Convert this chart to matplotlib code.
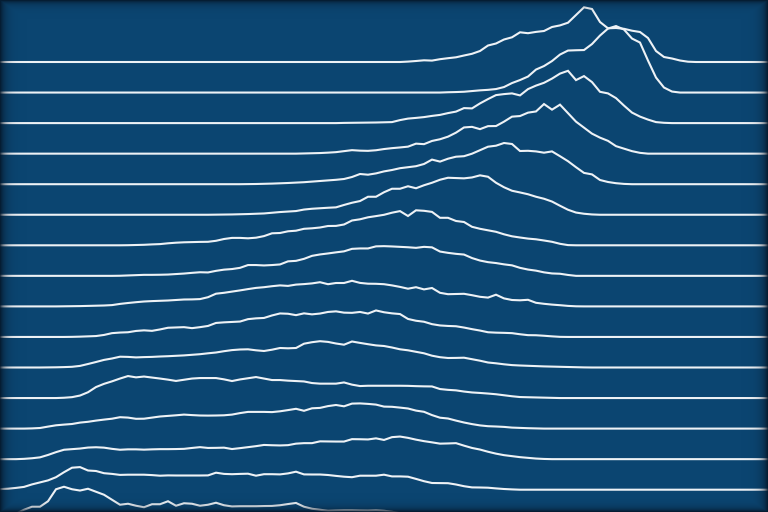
import numpy as np
import matplotlib
matplotlib.use("Agg")
import matplotlib.pyplot as plt

# shared x grid (16 ridges, 97 samples each)
n_points = 97
x = np.linspace(0, 768, n_points)


def ridge(start, vals):
    # pad a ridge with its flat (zero) tails
    return [0] * start + vals + [0] * (n_points - start - len(vals))


r00 = ridge(51, [0.4, 1.0, 1.7, 1.4, 2.8, 3.8, 4.7, 6.5, 8.2, 11, 16.5, 18.5, 22.5, 24.7, 29.7, 28.8, 30.1, 31,
                 35, 36.6, 39.3, 47, 54.7, 53, 40, 33.7, 34, 33.2, 31.3, 30, 24, 11, 5, 3.5, 1.5, 0.3])
r01 = ridge(56, [0.3, 0.5, 0.8, 1.5, 2.2, 2.7, 3.5, 5.5, 9.5, 12.5, 16, 23, 26.5, 31.5, 38, 42, 42.3, 42.5,
                 48.5, 57, 64, 66.5, 63, 54, 50, 32, 15, 5, 1])
r02 = ridge(43, [0.2, 0.3, 0.4, 0.5, 0.6, 0.8, 1, 3, 4.5, 5.2, 6, 7.2, 8.2, 10, 11.5, 15, 14.7, 19.7, 24, 28,
                 29, 29.7, 27.7, 34, 37.5, 40.3, 44.5, 49.5, 52.3, 43, 47, 41, 31.3, 29.7, 25, 17.5, 10.5, 6.5,
                 3.5, 1, 0.3])
r03 = ridge(38, [0.2, 0.4, 0.6, 1, 1.5, 2.5, 3.5, 3, 2.8, 3.4, 4.6, 5.5, 6.2, 7, 10, 9.5, 12.7, 14.4, 17, 21,
                 26.2, 26.8, 24.5, 27.5, 27.6, 32, 37, 37.6, 41, 42.2, 49.6, 44, 49, 40.5, 32, 26, 20, 16, 12.8,
                 7.5, 5, 2.5, 0.8])
r04 = ridge(31, [0.1, 0.2, 0.4, 0.6, 0.9, 1.2, 1.6, 2, 2.6, 3.2, 3.8, 4.4, 5.2, 7.2, 10.2, 9.5, 10.8, 12.8,
                 14.2, 16, 17, 18, 20.2, 24.6, 22.6, 25.5, 27.5, 28, 30.5, 34, 37.5, 38.5, 41.2, 40.2, 33.2,
                 33.4, 32.8, 31.5, 32.8, 28, 23, 17, 11.3, 9.8, 4.2, 2.2, 1, 0.3])
r05 = ridge(27, [0.1, 0.2, 0.3, 0.5, 0.7, 1, 1.3, 2, 2.7, 3.2, 3.7, 5.2, 6, 6.5, 7, 7.4, 9.8, 12, 13.7, 18, 18,
                 22.5, 26, 26, 28.5, 26.5, 29.5, 32, 35, 37, 36.7, 36.4, 37.3, 39.4, 38, 32, 27.5, 24, 22.3,
                 20.5, 18, 16, 13.2, 9, 5, 2.2, 1, 0.3])
r06 = ridge(16, [0.1, 0.3, 0.5, 0.9, 1.2, 2, 2.6, 3, 3.2, 3.4, 3.5, 4.5, 6.3, 7.4, 7.4, 7, 7.6, 9.2, 12, 12.3,
                 14, 14.6, 16.5, 17, 17.8, 19.3, 19.4, 20.8, 24.8, 26, 28, 29.2, 30.5, 32.6, 34.2, 29.3, 35,
                 34.5, 33.4, 27.5, 27.5, 24.3, 23.3, 18.5, 16.5, 15, 13.5, 11, 9, 7.8, 6.7, 6, 4.8, 3.5, 1.5,
                 0.2])
r07 = ridge(15, [0.1, 0.4, 0.7, 1, 1, 1.1, 1.3, 1.8, 2.3, 3, 3.6, 3.4, 5, 6.2, 6.8, 8, 10.8, 10.8, 10.4, 10.8,
                 11.4, 14.5, 15, 17, 20, 21.4, 22.4, 23.5, 24.5, 27, 27.4, 27.4, 29.5, 29.7, 29.4, 29, 28.6, 28,
                 29, 28.5, 24.3, 23, 22, 21.3, 17.8, 15.3, 13.7, 12.8, 11.5, 10.5, 8, 6.3, 5.2, 3.5, 2.4, 2.1,
                 0.9])
r08 = ridge(8, [0.1, 0.2, 0.3, 0.5, 0.7, 0.9, 1.3, 2.5, 3.4, 4.2, 4.9, 5.3, 5.6, 5.9, 6.4, 6.9, 7, 7.3, 9.2,
                12.7, 13.6, 14.8, 16, 17.3, 18.5, 19.2, 20.2, 21, 20.5, 21.8, 22.3, 23, 24.2, 22.2, 23.4, 23.4,
                25.6, 23.5, 22.7, 22.6, 22.2, 21, 19.5, 17.7, 19.2, 17, 18.4, 13.6, 12.2, 12.4, 12.6, 11.2, 9.6,
                8.8, 11.7, 8, 6.4, 6.1, 6.6, 3.6, 2.6, 1.8, 1.2, 0.5, 0.1])
r09 = ridge(9, [0.1, 0.3, 0.6, 0.9, 2, 3.8, 4.4, 4.7, 6, 6.6, 6.1, 7.5, 9.2, 9.5, 9.8, 8.8, 9.8, 11, 14, 14.6,
                15, 15.4, 17.8, 18.6, 19, 21.5, 23.5, 23.2, 21.8, 23.6, 22.6, 23.4, 25, 25.6, 24.3, 24.1, 25,
                23.4, 26.5, 24.7, 23.6, 22.9, 18, 16.2, 15.2, 12.8, 11.5, 11, 10.7, 9.4, 7.8, 6.4, 4.7, 4.3, 4.1,
                3.8, 2.7, 1.8, 1.7, 1.2, 0.6, 0.1])
r10 = ridge(6, [0.1, 0.2, 0.4, 0.7, 1.6, 3.5, 5.5, 7.6, 9, 10.8, 10.6, 10.1, 10.4, 10.6, 11, 11.3, 11.7, 12.1,
                12.7, 13.3, 14.2, 15, 16.3, 17.4, 18, 18.2, 17.2, 16.5, 17.8, 19.5, 19.2, 19.5, 23.8, 25.3, 26.3,
                25.6, 24, 22.8, 26, 24.6, 23.3, 22.1, 21.5, 20, 18.2, 17.2, 15.7, 14.2, 11.8, 10.3, 9.5, 9.6, 9.8,
                8.3, 6.8, 5, 4.2, 3.2, 2.4, 2, 1.7, 1.4, 1.1, 0.9, 0.7, 0.5, 0.3, 0.1])
r11 = ridge(8, [0.3, 0.9, 2.5, 5.8, 11, 14.2, 16.7, 19.5, 22, 20.7, 21.5, 20.5, 19.5, 18.4, 17.1, 18.3, 19.5,
                20, 20, 20, 18.7, 17, 18.6, 19.8, 21, 19.5, 18, 18, 17.4, 17, 16.6, 15, 14.4, 14.4, 14.4, 15.6,
                13.4, 12, 12.3, 12.3, 12.3, 12.3, 12.3, 12.2, 11.9, 11.7, 11.6, 9, 8.2, 7.7, 6.5, 5.6, 5.1, 4.5,
                3.8, 2.8, 1.8, 1, 0.8, 0.6, 0.4, 0.2])
r12 = ridge(4, [0.2, 0.6, 2, 3.3, 4, 4.6, 6, 6.8, 8, 9, 9.9, 11.4, 11, 9.8, 9.9, 11, 12.1, 12.7, 13.3, 14,
                13.5, 13.1, 13, 13.1, 13.3, 14, 15.5, 16.7, 16.7, 16.7, 16.5, 17.3, 18.5, 19.8, 17.8, 20.3, 20.7,
                22.5, 23.6, 22.3, 25, 25.2, 24.7, 24, 22, 21.8, 21, 20.1, 18, 16.8, 13.5, 10.9, 10.1, 8, 6.1,
                4.5, 3.2, 2.4, 2.1, 1.7, 1, 0.7, 0.4, 0.2])
r13 = ridge(3, [0.3, 0.9, 1.8, 4.2, 7, 9.4, 10, 10.6, 11.6, 11.9, 11.5, 10.3, 9.4, 9.8, 9.8, 9.5, 9.8, 10, 10,
                10.1, 10.3, 11.2, 12, 11.2, 11.3, 11.5, 10.1, 11, 12, 13, 14.2, 13.9, 13.7, 14, 15.5, 16, 16,
                17.8, 17.7, 17.6, 17.6, 20, 19.9, 19.7, 20.8, 19.2, 22, 22.6, 21.3, 19.5, 18, 16.8, 15.5, 15.7,
                16, 13.5, 11.2, 9.6, 7.4, 5.5, 4, 3, 2, 1.3, 0.6, 0.2])
r14 = ridge(0, [0.6, 1, 1.8, 2.8, 5.3, 7.3, 9.3, 12.5, 17.5, 22, 22.6, 19.2, 18.7, 16.5, 15.8, 14.8, 15, 15,
                15, 14.6, 14, 14.3, 14.2, 14.2, 14.2, 14.2, 14.3, 17, 15.8, 15.5, 15.8, 16, 14, 15.5, 15.5, 15.3,
                16.3, 18, 15.3, 15.2, 15.2, 14.7, 13.8, 13, 12.5, 14, 14, 14, 15, 13.3, 13.3, 13, 10.8, 8.5, 6.7,
                6.6, 6.5, 5.2, 3.5, 2.3, 2.2, 2, 1.3, 0.7, 0.3])
r15 = ridge(0, [3, 4.5, 6.5, 10.5, 13.5, 13.5, 19, 31, 33.5, 31, 29.7, 31.5, 28.5, 25.5, 20.5, 15.5, 16.5,
                14.5, 13, 16, 16, 19, 14.5, 17, 16.5, 14.5, 15.5, 17.5, 15, 13.8, 14, 14, 14, 14.2, 14.3, 15,
                16.2, 17.3, 13.5, 11.5, 10.5, 9.5, 9.8, 10, 10, 9.8, 9.7, 10, 9.5, 8.5, 7, 6, 5, 4, 3, 2.2, 1.5,
                1, 0.6, 0.3])

ridges = [r00, r01, r02, r03, r04, r05, r06, r07, r08, r09, r10, r11, r12, r13, r14, r15]

bg = "#0b4571"
line_col = "#eef2f6"
first_base = 62
spacing = 30.55

fig = plt.figure(figsize=(7.68, 5.12), dpi=100)
fig.patch.set_facecolor(bg)
ax = fig.add_axes([0, 0, 1, 1])
ax.set_facecolor(bg)
ax.set_xlim(0, 768)
ax.set_ylim(512, 0)
ax.axis("off")

for i, vals in enumerate(ridges):
    base = first_base + i * spacing
    ax.plot(x, base - np.array(vals), color=line_col, lw=1.5, solid_joinstyle="miter", zorder=2)

# dark inset shadow round the edges
h, w = 512, 768
yy, xx = np.mgrid[0:h, 0:w]
dx = np.minimum(xx, w - 1 - xx)
dy = np.minimum(yy, h - 1 - yy)
shade = np.maximum(np.exp(-dx / 5.0), np.exp(-dy / 3.5)) * 0.85
rgba = np.zeros((h, w, 4))
rgba[..., 0] = 0.02
rgba[..., 1] = 0.09
rgba[..., 2] = 0.16
rgba[..., 3] = shade
ax.imshow(rgba, extent=(0, 768, 512, 0), zorder=5, aspect="auto", interpolation="bilinear")
ax.set_xlim(0, 768)
ax.set_ylim(512, 0)

fig.savefig("out.png", dpi=100, facecolor=bg)
